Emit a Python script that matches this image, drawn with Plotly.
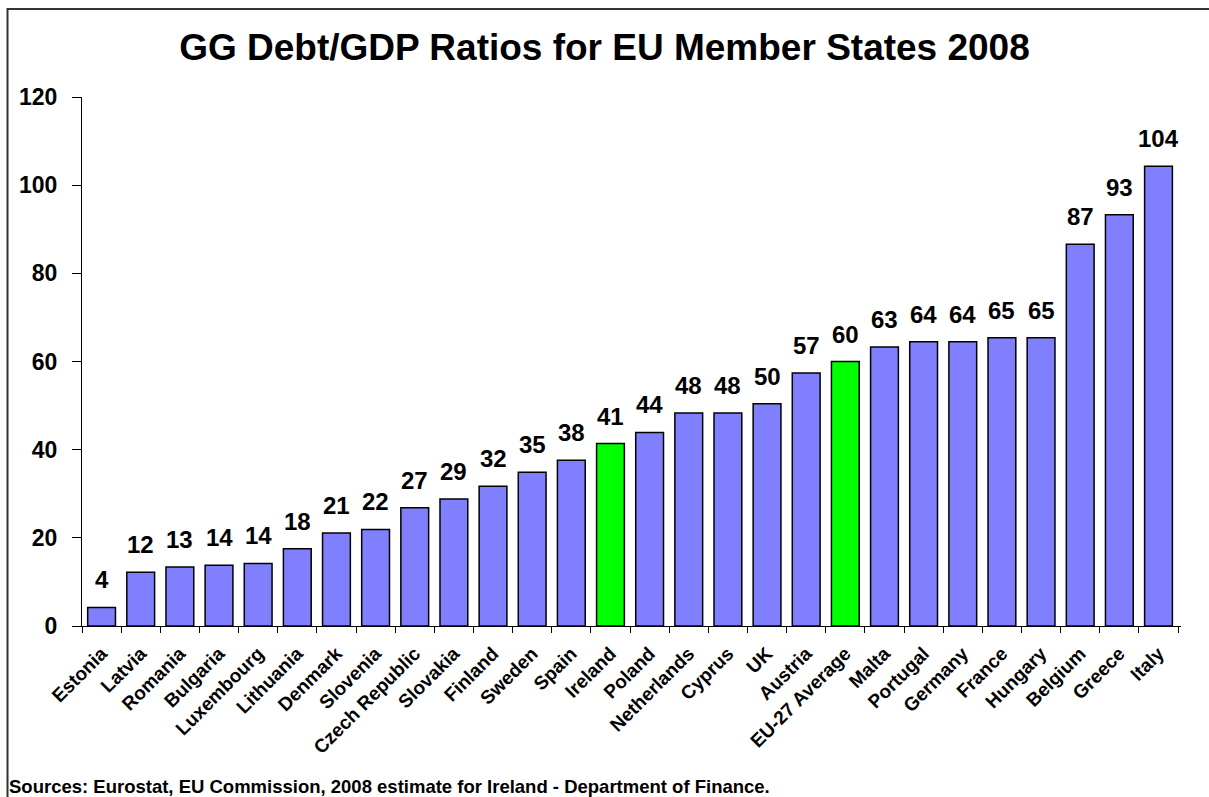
import plotly.graph_objects as go

countries = ["Estonia", "Latvia", "Romania", "Bulgaria", "Luxembourg", "Lithuania",
             "Denmark", "Slovenia", "Czech Republic", "Slovakia", "Finland", "Sweden",
             "Spain", "Ireland", "Poland", "Netherlands", "Cyprus", "UK", "Austria",
             "EU-27 Average", "Malta", "Portugal", "Germany", "France", "Hungary",
             "Belgium", "Greece", "Italy"]
debt_ratio = [4.2, 12.2, 13.4, 13.8, 14.2, 17.5, 21.1, 21.9, 26.8, 28.8, 31.7, 34.9,
              37.6, 41.4, 43.9, 48.3, 48.3, 50.4, 57.4, 60.0, 63.3, 64.5, 64.5, 65.4,
              65.4, 86.6, 93.3, 104.3]
labels = ["4", "12", "13", "14", "14", "18", "21", "22", "27", "29", "32", "35",
          "38", "41", "44", "48", "48", "50", "57", "60", "63", "64", "64", "65",
          "65", "87", "93", "104"]
highlight = ["Ireland", "EU-27 Average"]

FONT = "Arial, Liberation Sans, sans-serif"
W, H = 1209, 797
L, R, T, B = 82, 28, 97, 171
pw, ph = W - L - R, H - T - B

colors = ["#00FF00" if c in highlight else "#8080FF" for c in countries]

fig = go.Figure()
fig.add_trace(go.Bar(
    x=countries, y=debt_ratio,
    marker=dict(color=colors, line=dict(color="black", width=1.5)),
    hoverinfo="x+y",
))

for c, v, t in zip(countries, debt_ratio, labels):
    fig.add_annotation(x=c, y=v, text=f"<b>{t}</b>", showarrow=False, yanchor="bottom",
                       yshift=12, font=dict(family=FONT, size=24, color="black"))

fig.add_annotation(
    xref="paper", yref="paper",
    x=(7 - L) / pw, y=-(786 - (T + ph)) / ph,
    xanchor="left", yanchor="middle", showarrow=False,
    text="<b>Sources: Eurostat, EU Commission, 2008 estimate for Ireland - Department of Finance.</b>",
    font=dict(family=FONT, size=18.5, color="black"),
)

# outer chart border (left and top)
fig.add_shape(type="path", xref="paper", yref="paper",
              path=f"M {(7.5 - L) / pw} {-(900 - T - ph) / ph} L {(7.5 - L) / pw} {1 + (T - 9) / ph} L {(1300 - L) / pw} {1 + (T - 9) / ph}",
              line=dict(color="#333333", width=2))

fig.update_layout(
    width=W, height=H,
    margin=dict(l=L, r=R, t=T, b=B),
    paper_bgcolor="white", plot_bgcolor="white",
    bargap=0.29,
    showlegend=False,
    title=dict(text="<b>GG Debt/GDP Ratios for EU Member States 2008</b>",
               x=0.5, xref="container", xanchor="center",
               y=1 - 47 / H, yref="container", yanchor="middle",
               font=dict(family=FONT, size=37, color="black")),
    xaxis=dict(
        tickangle=-45, tickson="boundaries", ticks="outside", ticklen=6,
        tickcolor="black", showline=True, linecolor="black", linewidth=1,
        tickfont=dict(family=FONT, size=19, color="black"),
        showgrid=False, ticklabelstandoff=8,
    ),
    yaxis=dict(
        range=[0, 120], dtick=20, ticks="outside", ticklen=9, tickcolor="black",
        showline=True, linecolor="black", linewidth=1, showgrid=False,
        zeroline=False, ticklabelstandoff=10,
        tickfont=dict(family=FONT, size=23, color="black"),
        tickprefix="<b>", ticksuffix="</b>",
    ),
)
fig.update_xaxes(tickprefix="<b>", ticksuffix="</b>")

fig.write_html("out.html")
